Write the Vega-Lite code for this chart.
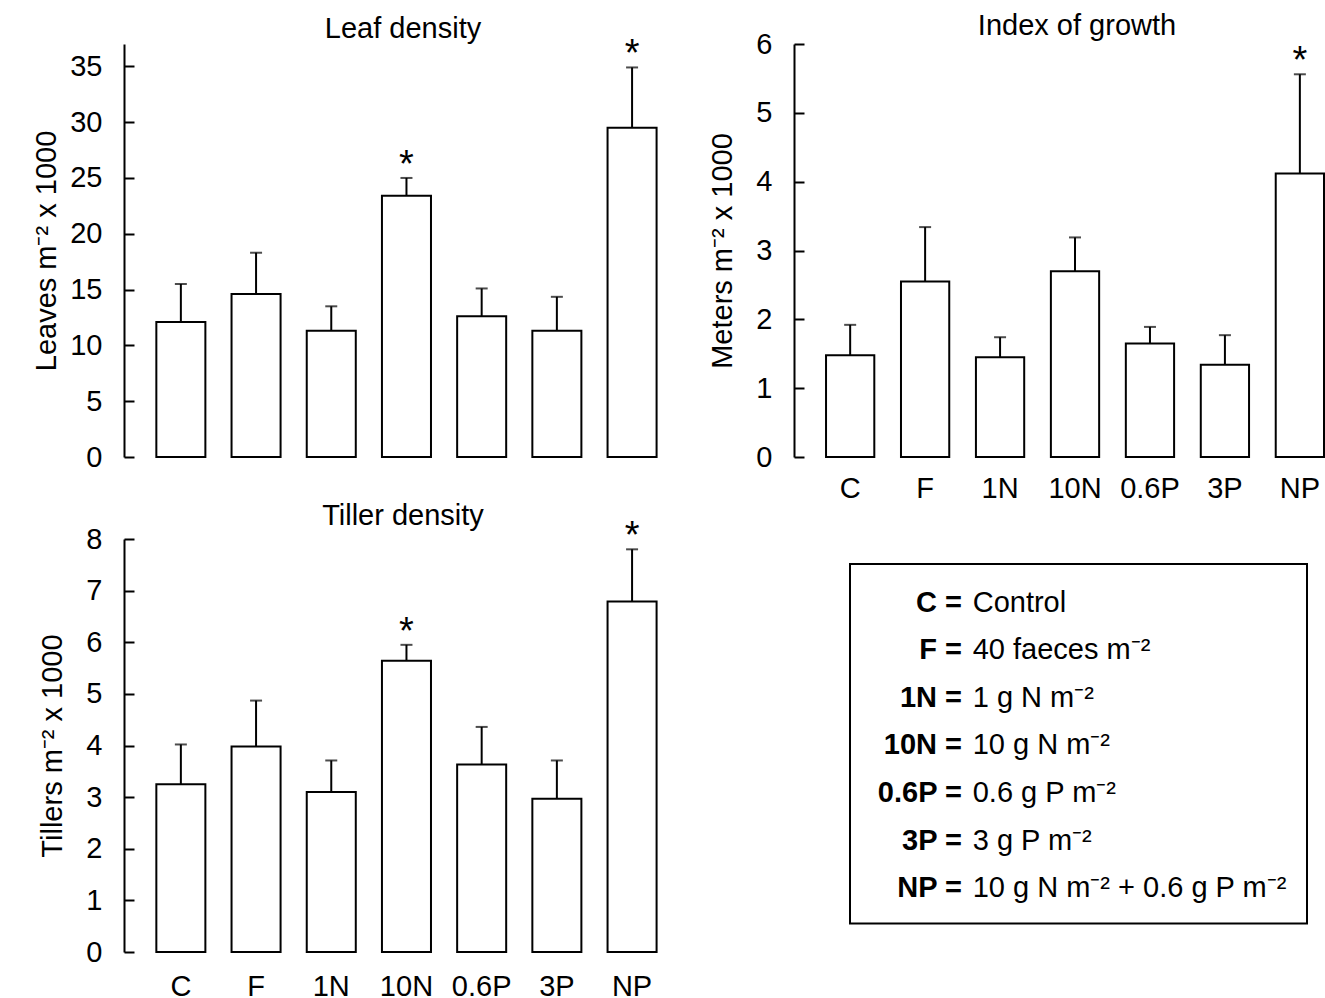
{
  "$schema": "https://vega.github.io/schema/vega-lite/v6.json",
  "padding": {"left": 32, "top": 12, "right": 0, "bottom": 0},
  "config": {
    "font": "Liberation Sans",
    "view": {"stroke": null},
    "axis": {"labelFont": "Liberation Sans", "titleFont": "Liberation Sans", "labelFontSize": 29, "titleFontSize": 29, "labelColor": "black", "titleColor": "black", "titleFontWeight": "normal", "domainColor": "black", "tickColor": "black", "domainWidth": 2, "tickWidth": 2, "grid": false, "labelOverlap": false},
    "title": {"fontSize": 29, "fontWeight": "normal", "color": "black", "font": "Liberation Sans", "baseline": "alphabetic"},
    "text": {"font": "Liberation Sans", "color": "black"}
  },
  "datasets": {
    "leaf": [
      {"trt": "C", "mean": 12.1, "upper": 15.5, "sig": ""},
      {"trt": "F", "mean": 14.6, "upper": 18.3, "sig": ""},
      {"trt": "1N", "mean": 11.3, "upper": 13.5, "sig": ""},
      {"trt": "10N", "mean": 23.4, "upper": 25.0, "sig": "*"},
      {"trt": "0.6P", "mean": 12.6, "upper": 15.1, "sig": ""},
      {"trt": "3P", "mean": 11.3, "upper": 14.35, "sig": ""},
      {"trt": "NP", "mean": 29.5, "upper": 34.9, "sig": "*"}
    ],
    "growth": [
      {"trt": "C", "mean": 1.48, "upper": 1.92, "sig": ""},
      {"trt": "F", "mean": 2.55, "upper": 3.34, "sig": ""},
      {"trt": "1N", "mean": 1.45, "upper": 1.74, "sig": ""},
      {"trt": "10N", "mean": 2.70, "upper": 3.19, "sig": ""},
      {"trt": "0.6P", "mean": 1.65, "upper": 1.89, "sig": ""},
      {"trt": "3P", "mean": 1.34, "upper": 1.77, "sig": ""},
      {"trt": "NP", "mean": 4.12, "upper": 5.56, "sig": "*"}
    ],
    "tiller": [
      {"trt": "C", "mean": 3.25, "upper": 4.02, "sig": ""},
      {"trt": "F", "mean": 3.98, "upper": 4.87, "sig": ""},
      {"trt": "1N", "mean": 3.10, "upper": 3.71, "sig": ""},
      {"trt": "10N", "mean": 5.64, "upper": 5.95, "sig": "*"},
      {"trt": "0.6P", "mean": 3.63, "upper": 4.36, "sig": ""},
      {"trt": "3P", "mean": 2.97, "upper": 3.71, "sig": ""},
      {"trt": "NP", "mean": 6.79, "upper": 7.80, "sig": "*"}
    ],
    "legend": [
      {"order": 1, "code": "C =", "desc": "Control"},
      {"order": 2, "code": "F =", "desc": "40 faeces m⁻²"},
      {"order": 3, "code": "1N =", "desc": "1 g N m⁻²"},
      {"order": 4, "code": "10N =", "desc": "10 g N m⁻²"},
      {"order": 5, "code": "0.6P =", "desc": "0.6 g P m⁻²"},
      {"order": 6, "code": "3P =", "desc": "3 g P m⁻²"},
      {"order": 7, "code": "NP =", "desc": "10 g N m⁻² + 0.6 g P m⁻²"}
    ]
  },
  "columns": 2,
  "bounds": "flush",
  "align": "each",
  "spacing": {"row": 82, "column": 112},
  "concat": [
    {
      "width": 558, "height": 413,
      "title": {"text": "Leaf density", "offset": -8},
      "data": {"name": "leaf"},
      "encoding": {
        "x": {"field": "trt", "type": "nominal", "sort": ["C", "F", "1N", "10N", "0.6P", "3P", "NP"], "scale": {"type": "band", "paddingInner": 0.348, "paddingOuter": 0.384, "align": 0.56}, "axis": null},
        "y": {"field": "mean", "type": "quantitative", "title": "Leaves m⁻² x 1000", "scale": {"domain": [0, 37], "nice": false}, "axis": {"values": [0, 5, 10, 15, 20, 25, 30, 35], "format": "d", "tickSize": -10, "labelPadding": 32, "titlePadding": 8}}
      },
      "layer": [
        {"mark": {"type": "bar", "fill": "white", "stroke": "black", "strokeWidth": 2}},
        {"mark": {"type": "rule", "color": "black", "strokeWidth": 2}, "encoding": {"y2": {"field": "upper"}}},
        {"mark": {"type": "tick", "color": "black", "size": 12, "thickness": 2}, "encoding": {"y": {"field": "upper", "type": "quantitative", "title": "Leaves m⁻² x 1000"}}},
        {"mark": {"type": "text", "fontSize": 38, "baseline": "alphabetic", "dy": -1}, "encoding": {"y": {"field": "upper", "type": "quantitative", "title": "Leaves m⁻² x 1000"}, "text": {"field": "sig"}}}
      ]
    },
    {
      "width": 530, "height": 413,
      "title": {"text": "Index of growth", "offset": -11, "dx": 18},
      "data": {"name": "growth"},
      "encoding": {
        "x": {"field": "trt", "type": "nominal", "sort": ["C", "F", "1N", "10N", "0.6P", "3P", "NP"], "scale": {"type": "band", "paddingInner": 0.356, "paddingOuter": 0.2137, "align": 1}, "axis": {"domain": false, "ticks": false, "labelAngle": 0, "labelPadding": 17, "title": null}},
        "y": {"field": "mean", "type": "quantitative", "title": "Meters m⁻² x 1000", "scale": {"domain": [0, 6], "nice": false}, "axis": {"values": [0, 0.5, 1, 1.5, 2, 2.5, 3, 3.5, 4, 4.5, 5, 5.5, 6], "format": "d", "labelExpr": "datum.value % 1 === 0 ? datum.label : ''", "tickSize": -10, "labelPadding": 32, "titlePadding": 18}}
      },
      "layer": [
        {"mark": {"type": "bar", "fill": "white", "stroke": "black", "strokeWidth": 2}},
        {"mark": {"type": "rule", "color": "black", "strokeWidth": 2}, "encoding": {"y2": {"field": "upper"}}},
        {"mark": {"type": "tick", "color": "black", "size": 12, "thickness": 2}, "encoding": {"y": {"field": "upper", "type": "quantitative", "title": "Meters m⁻² x 1000"}}},
        {"mark": {"type": "text", "fontSize": 38, "baseline": "alphabetic", "dy": -1}, "encoding": {"y": {"field": "upper", "type": "quantitative", "title": "Meters m⁻² x 1000"}, "text": {"field": "sig"}}}
      ]
    },
    {
      "width": 558, "height": 413,
      "title": {"text": "Tiller density", "offset": -13},
      "data": {"name": "tiller"},
      "encoding": {
        "x": {"field": "trt", "type": "nominal", "sort": ["C", "F", "1N", "10N", "0.6P", "3P", "NP"], "scale": {"type": "band", "paddingInner": 0.348, "paddingOuter": 0.384, "align": 0.56}, "axis": {"domain": false, "ticks": false, "labelAngle": 0, "labelPadding": 20, "title": null}},
        "y": {"field": "mean", "type": "quantitative", "title": "Tillers m⁻² x 1000", "scale": {"domain": [0, 8], "nice": false}, "axis": {"values": [0, 1, 2, 3, 4, 5, 6, 7, 8], "format": "d", "tickSize": -10, "labelPadding": 32, "titlePadding": 18}}
      },
      "layer": [
        {"mark": {"type": "bar", "fill": "white", "stroke": "black", "strokeWidth": 2}},
        {"mark": {"type": "rule", "color": "black", "strokeWidth": 2}, "encoding": {"y2": {"field": "upper"}}},
        {"mark": {"type": "tick", "color": "black", "size": 12, "thickness": 2}, "encoding": {"y": {"field": "upper", "type": "quantitative", "title": "Tillers m⁻² x 1000"}}},
        {"mark": {"type": "text", "fontSize": 38, "baseline": "alphabetic", "dy": -1}, "encoding": {"y": {"field": "upper", "type": "quantitative", "title": "Tillers m⁻² x 1000"}, "text": {"field": "sig"}}}
      ]
    },
    {
      "width": 513, "height": 385,
      "layer": [
        {
          "data": {"values": [{"box": 1}]},
          "mark": {"type": "rect", "fill": "white", "fillOpacity": 0, "stroke": "black", "strokeWidth": 2},
          "encoding": {
            "x": {"datum": 0, "type": "quantitative", "scale": {"domain": [0, 1], "range": [56, 513], "nice": false}, "axis": null},
            "x2": {"datum": 1},
            "y": {"datum": 0, "type": "quantitative", "scale": {"domain": [0, 7.55], "range": [25, 384.4], "nice": false, "zero": false}, "axis": null},
            "y2": {"datum": 7.55}
          }
        },
        {
          "data": {"name": "legend"},
          "mark": {"type": "text", "align": "right", "baseline": "alphabetic", "fontWeight": "bold", "fontSize": 29},
          "encoding": {
            "x": {"datum": 0.245, "type": "quantitative"},
            "y": {"field": "order", "type": "quantitative"},
            "text": {"field": "code"}
          }
        },
        {
          "data": {"name": "legend"},
          "mark": {"type": "text", "align": "left", "baseline": "alphabetic", "fontSize": 29},
          "encoding": {
            "x": {"datum": 0.2685, "type": "quantitative"},
            "y": {"field": "order", "type": "quantitative"},
            "text": {"field": "desc"}
          }
        }
      ]
    }
  ]
}
